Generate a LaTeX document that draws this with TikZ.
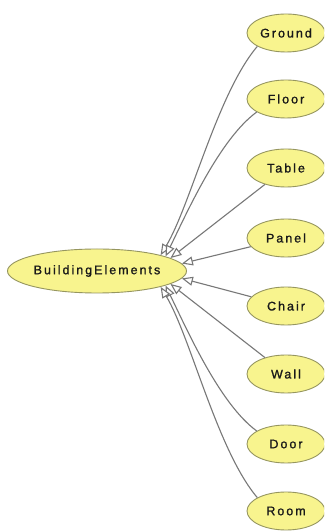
\documentclass[tikz,border=0pt]{standalone}
\usepackage{fontspec}
\usetikzlibrary{shapes.geometric,arrows.meta}
\newfontfamily\lblfont{Liberation Sans}[LetterSpace=16,FakeBold=1.2]
\definecolor{nodefill}{RGB}{248,244,142}
\definecolor{nodeline}{RGB}{150,150,95}
\definecolor{edgecol}{RGB}{120,120,120}
\definecolor{txtcol}{RGB}{25,25,25}
\begin{document}
\begin{tikzpicture}[x=1pt,y=1pt,
  cls/.style={ellipse, draw=nodeline, fill=nodefill, line width=0.9pt,
    minimum width=78pt, minimum height=38pt, inner sep=0pt,
    font=\lblfont\fontsize{12.5}{14}\selectfont, text=txtcol},
  isa/.style={draw=edgecol, line width=1.1pt,
    -{Triangle[fill=white, length=11pt, width=9pt]}}]
\clip (0,0) rectangle (324,532);
\fill[white] (0,0) rectangle (324,532);
\node[cls, minimum width=172pt, minimum height=44pt] (be) at (97,261) {BuildingElements};
\node[cls] (ground) at (286,499) {Ground};
\node[cls] (floor) at (286,433) {Floor};
\node[cls] (table) at (286,364) {Table};
\node[cls] (panel) at (286,294) {Panel};
\node[cls] (chair) at (286,226) {Chair};
\node[cls] (wall) at (286,158) {Wall};
\node[cls] (door) at (286,88) {Door};
\node[cls] (room) at (286,21) {Room};
\draw[isa] (ground.205) .. controls +(-40,-47) and +(30,50) .. (be.14);
\draw[isa] (floor.204) .. controls +(-37,-27) and +(22,45) .. (be.12);
\draw[isa] (table) -- (be.10);
\draw[isa] (panel) -- (be.5);
\draw[isa] (chair) -- (be.-5);
\draw[isa] (wall) -- (be.-10);
\draw[isa] (door.156) .. controls +(-37,27) and +(22,-45) .. (be.-12);
\draw[isa] (room.155) .. controls +(-40,47) and +(30,-50) .. (be.-14);
\end{tikzpicture}
\end{document}
